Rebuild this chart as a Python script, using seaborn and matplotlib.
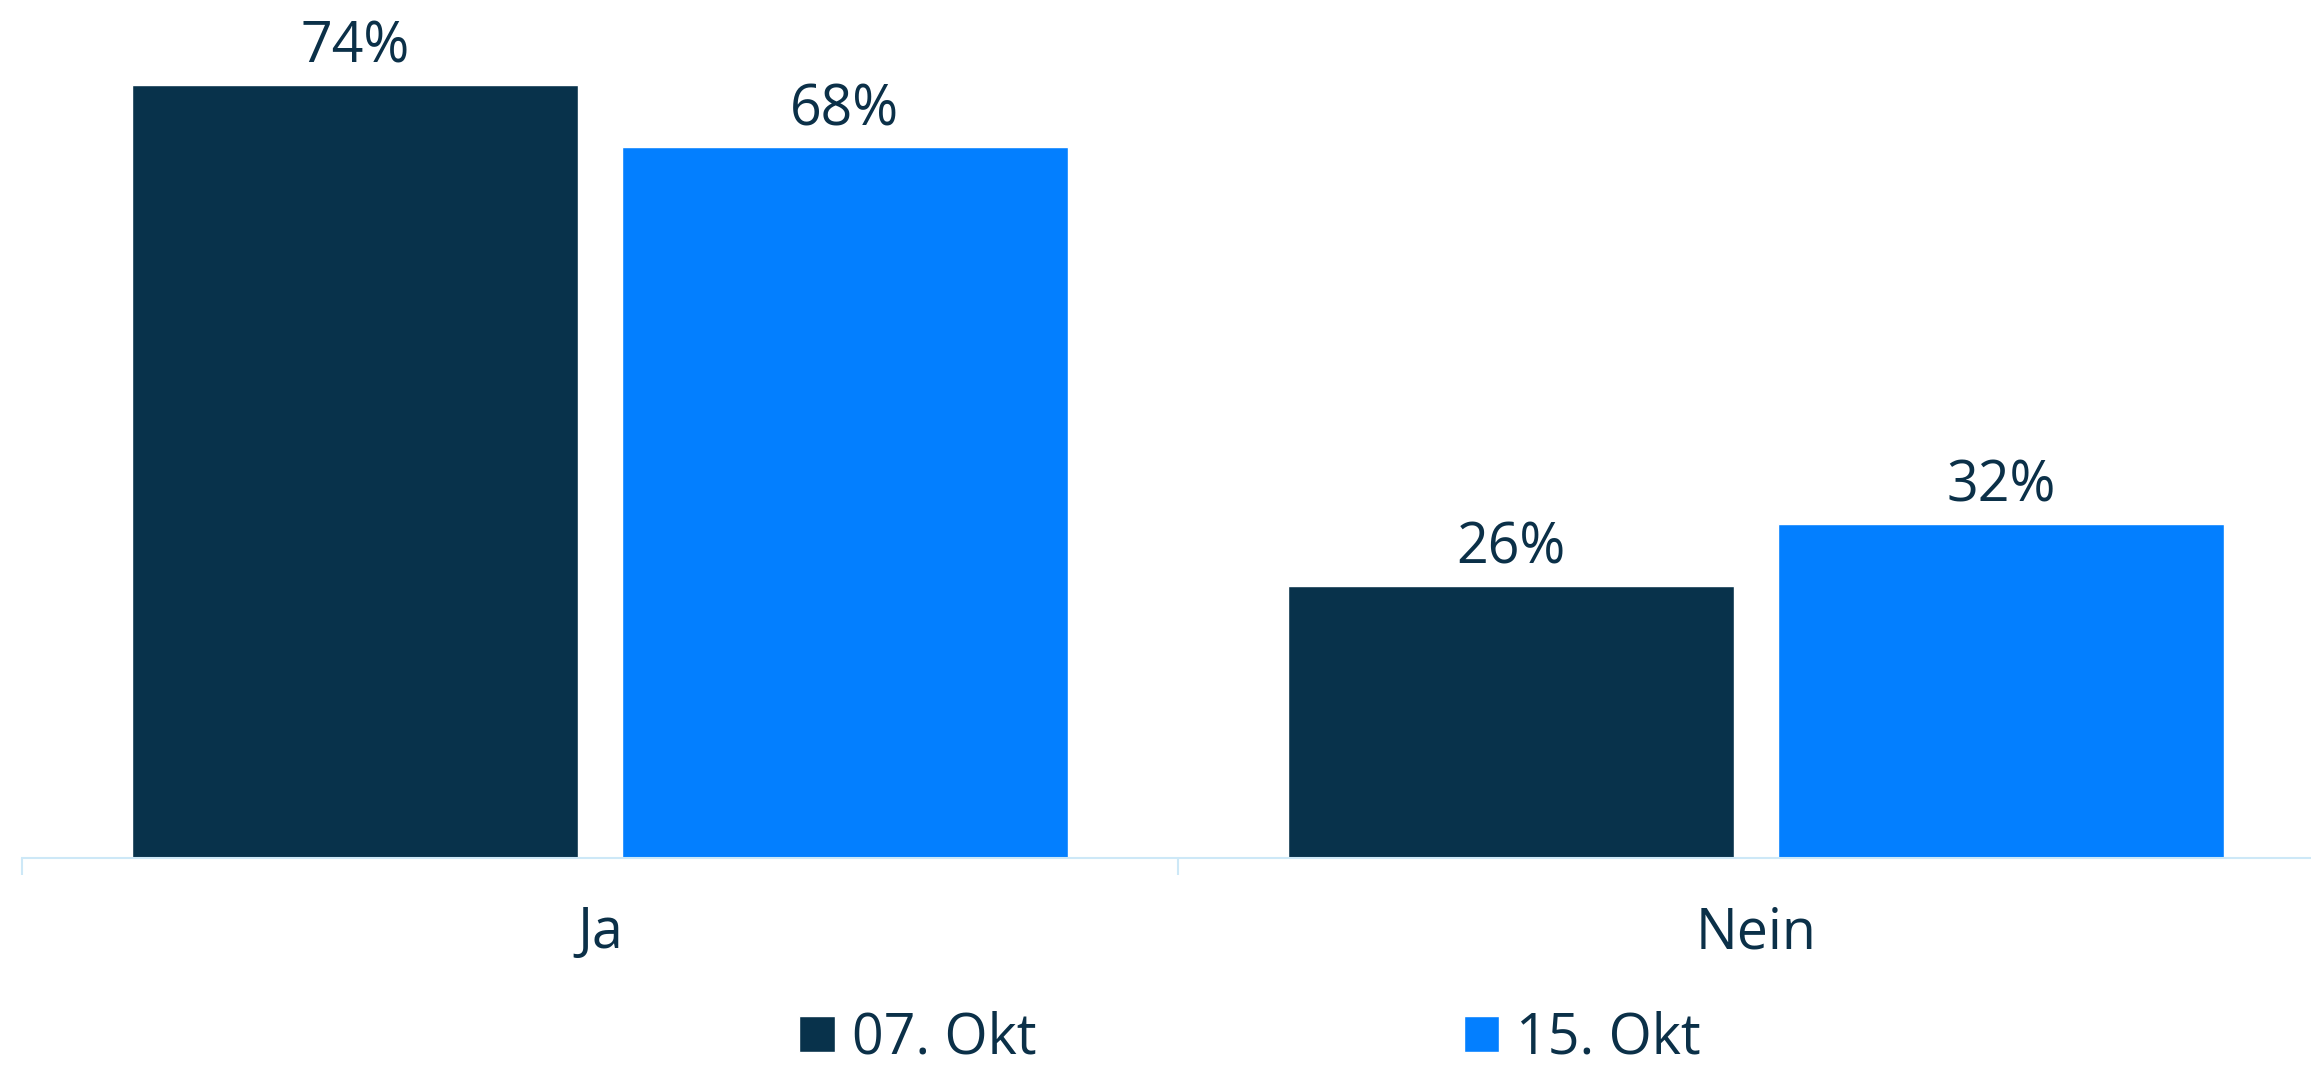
import matplotlib
matplotlib.use("Agg")
import matplotlib.pyplot as plt
import seaborn as sns
import pandas as pd

# Survey answers per date (percent)
categories = ["Ja", "Nein"]
dates = ["07. Okt", "15. Okt"]
values_07 = [74, 26]
values_15 = [68, 32]

navy = "#08324B"
blue = "#037FFF"
axis_col = "#CDE8F7"
text_col = "#0B3048"

df = pd.DataFrame({
    "Antwort": categories * 2,
    "Datum": [dates[0]] * 2 + [dates[1]] * 2,
    "Wert": values_07 + values_15,
})

sns.set_theme(style="white")
plt.rcParams["font.family"] = ["Open Sans", "DejaVu Sans"]

W, H, DPI = 2311, 1068, 100
fig = plt.figure(figsize=(W / DPI, H / DPI), dpi=DPI)
ax = fig.add_axes([22 / W, 210 / H, 2312 / W, 858 / H])

sns.barplot(data=df, x="Antwort", y="Wert", hue="Datum", order=categories,
            hue_order=dates, palette={dates[0]: navy, dates[1]: blue},
            width=0.847, gap=0.09, saturation=1, ax=ax)

ax.set_xlim(-0.5, 1.5)
ax.set_ylim(0, 82.1)
ax.set_xlabel("")
ax.set_ylabel("")
ax.set_yticks([])

for c in ax.containers:
    ax.bar_label(c, labels=[f"{v:.0f}%" for v in c.datavalues], padding=6,
                 fontsize=40, color=text_col)

for s in ["top", "right", "left"]:
    ax.spines[s].set_visible(False)
ax.spines["bottom"].set_color(axis_col)
ax.spines["bottom"].set_linewidth(1.5)

ax.set_xticks([0, 1])
ax.set_xticklabels(categories, fontsize=40, color=text_col)
ax.tick_params(axis="x", which="major", length=0, pad=34)
ax.set_xticks([-0.5, 0.5, 1.5], minor=True)
ax.tick_params(axis="x", which="minor", length=12, width=1.5, color=axis_col,
               bottom=True)

handles, labels = ax.get_legend_handles_labels()
ax.get_legend().remove()
leg = fig.legend(handles, labels, loc="center", bbox_to_anchor=(1250 / W, 29 / H),
                 ncol=2, frameon=False, fontsize=40, handlelength=0.64,
                 handleheight=0.64, handletextpad=0.3, columnspacing=7.7,
                 borderpad=0, borderaxespad=0)
for t in leg.get_texts():
    t.set_color(text_col)

fig.savefig("out.png", dpi=DPI)
